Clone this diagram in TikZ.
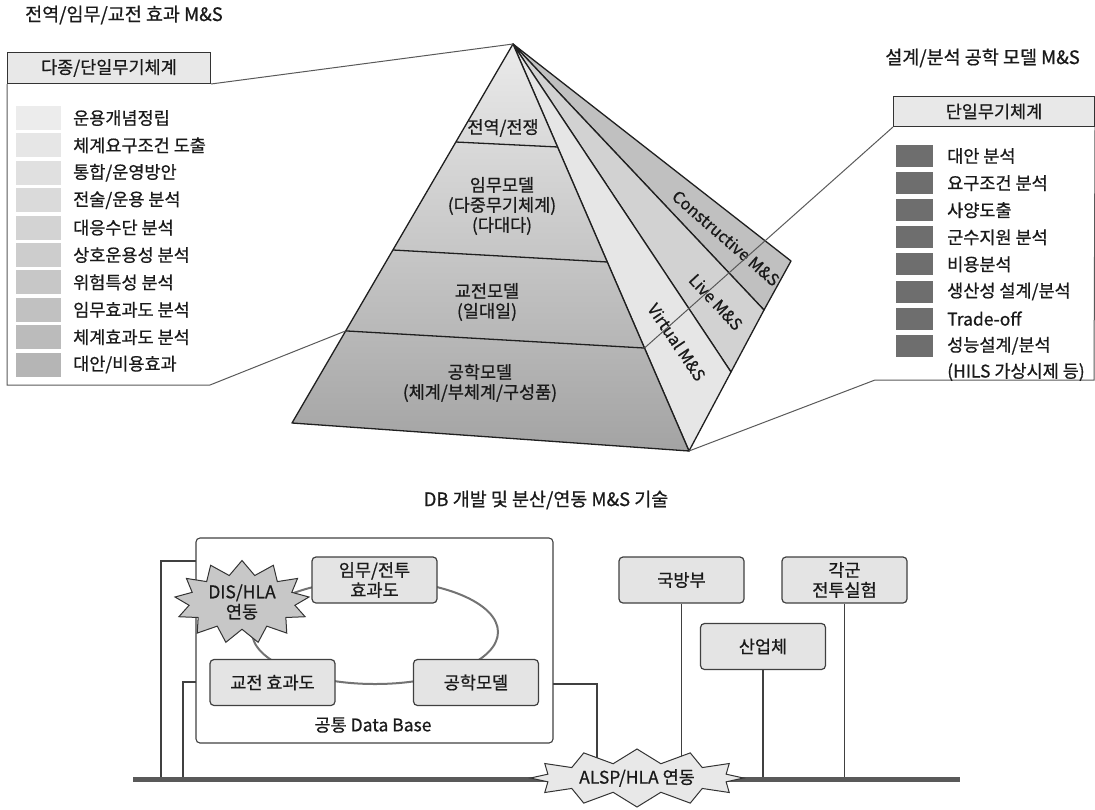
\documentclass[tikz,border=0pt]{standalone}
\usepackage{fontspec}
\setmainfont{Noto Sans CJK KR}[FakeBold=0.7]
\usetikzlibrary{shapes.symbols,calc}
\definecolor{txt}{HTML}{1A1A1A}
\definecolor{hdrfill}{HTML}{E8E8E8}
\definecolor{boxfill}{HTML}{E4E4E4}
\definecolor{darksw}{HTML}{6E6E6E}
\definecolor{virt}{HTML}{E6E6E6}
\definecolor{live}{HTML}{D2D2D2}
\definecolor{cons}{HTML}{C0C0C0}
\begin{document}
\begin{tikzpicture}[x=1pt,y=-1pt,
  every node/.style={text=txt},
  item/.style={font=\fontsize{17.5}{21}\selectfont, inner sep=0pt, anchor=west},
  ttl/.style={font=\fontsize{18.5}{22}\selectfont, inner sep=0pt},
  hdr/.style={draw=black!80, line width=1pt, fill=hdrfill, inner sep=0pt, anchor=north west, font=\fontsize{17.5}{21}\selectfont},
  callout/.style={draw=black!65, line width=1pt},
  pyr/.style={draw=black!88, line width=1.3pt, line join=round},
  lay/.style={font=\fontsize{17.5}{20}\selectfont, align=center, inner sep=0pt},
  side/.style={font=\fontsize{16.5}{18}\selectfont, inner sep=0pt},
  swatchL/.style={minimum width=45pt, minimum height=24pt, inner sep=0pt, draw=none},
  swatchR/.style={minimum width=37pt, minimum height=22pt, inner sep=0pt, draw=none, fill=darksw},
  mbox/.style={draw=black!75, line width=1.2pt, fill=boxfill, rounded corners=4pt, minimum width=125pt, minimum height=46pt, align=center, inner sep=0pt, font=\fontsize{17.5}{20}\selectfont},
  conn/.style={draw=black!75, line width=1.2pt},
  loopline/.style={draw=black!55, line width=2pt},
  bus/.style={draw=black!65, line width=5pt},
  burst/.style={starburst, random starburst=0, draw=black!80, line width=1pt, align=center, inner sep=0pt, font=\fontsize{17.5}{20}\selectfont},
]
\useasboundingbox (0,0) rectangle (1095,809);

% ---------- titles ----------
\node[ttl, anchor=west] (t1) at (25,15) {전역/임무/교전 효과 M\&S};
\node[ttl, anchor=east] (t2) at (1080,58) {설계/분석 공학 모델 M\&S};
\node[ttl] (t3) at (546,500) {DB 개발 및 분산/연동 M\&S 기술};

% ---------- pyramid ----------
\coordinate (A) at (513,44);
\coordinate (BL) at (292,423);
\coordinate (BR) at (689,451);
\coordinate (Vp) at (731,372);
\coordinate (Lp) at (764,310);
\coordinate (Cp) at (791,261);
\coordinate (P1l) at ($(A)!0.2586!(BL)$);
\coordinate (P1r) at ($(A)!0.253!(BR)$);
\coordinate (P2l) at ($(A)!0.5435!(BL)$);
\coordinate (P2r) at ($(A)!0.5356!(BR)$);
\coordinate (P3l) at ($(A)!0.757!(BL)$);
\coordinate (P3r) at ($(A)!0.747!(BR)$);

\filldraw[pyr, fill=cons] (A) -- (Cp) -- (Lp) -- cycle;
\filldraw[pyr, fill=live] (A) -- (Lp) -- (Vp) -- cycle;
\filldraw[pyr, fill=virt] (A) -- (Vp) -- (BR) -- cycle;
\shade[top color=black!8, bottom color=black!36] (A) -- (BL) -- (BR) -- cycle;
\draw[pyr] (A) -- (BL) -- (BR) -- cycle;
\draw[pyr] (P1l) -- (P1r);
\draw[pyr] (P2l) -- (P2r);
\draw[pyr] (P3l) -- (P3r);

\node[lay] (lw) at (503,128) {전역/전쟁};
\node[lay] (lm) at (502,206) {임무모델\\(다중무기체계)\\(다대다)};
\node[lay] (le) at (487,302) {교전모델\\(일대일)};
\node[lay] (lg) at (480,383) {공학모델\\(체계/부체계/구성품)};

\node[side, rotate=-41] (sc) at (726,238) {Constructive M\&S};
\node[side, rotate=-47] (sl) at (716,302) {Live M\&S};
\node[side, rotate=-56] (sv) at (677,342) {Virtual M\&S};

% ---------- left legend ----------
\node[hdr, minimum width=203pt, minimum height=31pt] (hdrL) at (7,52) {다종/단일무기체계};
\coordinate (LbL) at (7,385);
\coordinate (LbR) at (210,385);
\draw[callout] (hdrL.south east) -- (A);
\draw[callout] (hdrL.south west) -- (LbL) -- (LbR) -- (P3l);
\foreach \t [count=\i from 0] in {운용개념정립,체계요구조건 도출,통합/운영방안,전술/운용 분석,대응수단 분석,상호운용성 분석,위험특성 분석,임무효과도 분석,체계효과도 분석,대안/비용효과} {
  \pgfmathsetmacro\yy{118+27.4*\i}
  \pgfmathsetmacro\gg{7.5+2.4*\i}
  \node[swatchL, fill=black!\gg] (swl\i) at (38.5,\yy) {};
  \node[item] (tl\i) at (73,\yy) {\t};
}

% ---------- right legend ----------
\node[hdr, minimum width=201pt, minimum height=30pt] (hdrR) at (893,96) {단일무기체계};
\coordinate (RbR) at (1094,380);
\coordinate (RbL) at (875,380);
\draw[callout] (hdrR.south west) -- (P3r);
\draw[callout] (hdrR.south east) -- (RbR) -- (RbL) -- (BR);
\foreach \t [count=\i from 0] in {대안 분석,요구조건 분석,사양도출,군수지원 분석,비용분석,생산성 설계/분석,Trade-off,성능설계/분석} {
  \pgfmathsetmacro\yy{156+27.1*\i}
  \node[swatchR] (swr\i) at (914.5,\yy) {};
  \node[item] (tr\i) at (947,\yy) {\t};
}
\node[item] (tr8) at (947,372) {(HILS 가상시제 등)};

% ---------- bottom: DB / networking ----------
\node[draw=black!75, line width=1.1pt, rounded corners=4pt, minimum width=357pt, minimum height=205pt, inner sep=0pt] (db) at (374.5,640.5) {};
\node[item, anchor=center] (dbl) at (373,725) {공통 Data Base};
\draw[loopline] (375,632) ellipse [x radius=123pt, y radius=52pt];

\node[mbox] (mission) at (374.5,580) {임무/전투\\효과도};
\node[mbox] (engage) at (272.5,682.5) {교전 효과도};
\node[mbox] (engm) at (476,682.5) {공학모델};
\node[mbox] (mnd) at (681.5,580) {국방부};
\node[mbox] (army) at (844.5,580) {각군\\전투실험};
\node[mbox] (ind) at (763,646.5) {산업체};

\node[burst, fill=black!22, starburst points=13, minimum width=135pt, minimum height=83pt] (dis) at (242,602) {DIS/HLA\\연동};

\coordinate (busL) at (133,779);
\coordinate (busR) at (960,779);
\coordinate (dbL1) at (196,561);
\coordinate (dbL2) at (196,682);
\coordinate (dbR) at (553,684);
\coordinate (tap1) at (161,779);
\coordinate (tap2) at (183,779);
\coordinate (tap3) at (597,779);
\draw[conn] (dbL1) -| (tap1);
\draw[conn] (dbL2) -| (tap2);
\draw[conn] (dbR) -| (tap3);
\draw[conn] (mnd.south) -- (mnd.south |- busL);
\draw[conn] (ind.south) -- (ind.south |- busL);
\draw[conn] (army.south) -- (army.south |- busL);
\draw[bus] (busL) -- (busR);

\node[burst, fill=black!9, starburst points=12, minimum width=213pt, minimum height=58pt] (alsp) at (637,778) {ALSP/HLA 연동};
\end{tikzpicture}
\end{document}
